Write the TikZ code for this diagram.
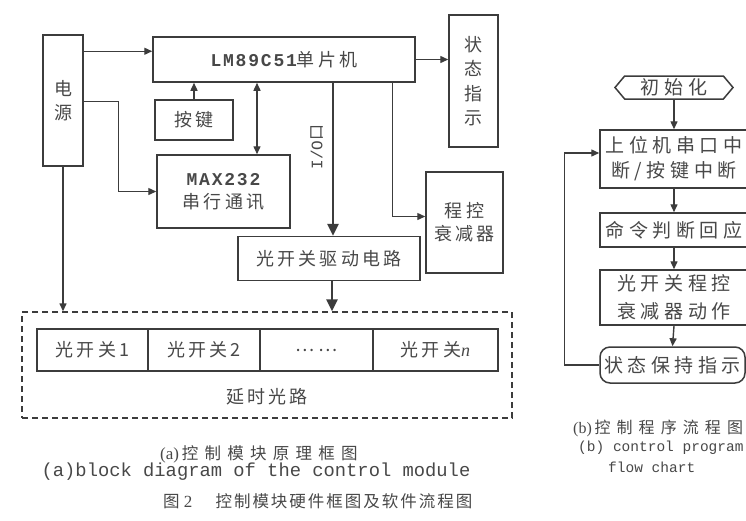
\documentclass[tikz,border=0pt]{standalone}
\usepackage{fontspec}
\setmainfont{Liberation Serif}
\newfontfamily\cjk{Noto Sans CJK SC}[LetterSpace=18]
\newfontfamily\cjkf{Noto Sans CJK SC}[LetterSpace=24]
\newfontfamily\cjkc{Noto Sans CJK SC}[LetterSpace=38]
\newfontfamily\cjkd{Noto Sans CJK SC}[LetterSpace=12]
\newfontfamily\mono{Liberation Mono}
\newfontfamily\monob{Liberation Mono}[LetterSpace=10]
\usetikzlibrary{arrows.meta,shapes.symbols}
\definecolor{ln}{HTML}{3C3C3C}
\definecolor{tx}{HTML}{484848}
\begin{document}
\begin{tikzpicture}[x=1pt,y=-1pt,
  box/.style={draw=ln,line width=1.5pt,rectangle,inner sep=0pt,align=center,text=tx,
    font=\cjk\fontsize{18}{23}\selectfont},
  fbox/.style={box,font=\cjkf\fontsize{19}{25}\selectfont},
  arr/.style={draw=ln,line width=1.4pt,-{Triangle[length=8pt,width=7pt]}},
  dbl/.style={draw=ln,line width=1.4pt,{Triangle[length=8pt,width=7pt]}-{Triangle[length=8pt,width=7pt]}},
  ioarr/.style={draw=ln,line width=2.6pt,-{Triangle[length=12pt,width=11pt]}},
  lbl/.style={inner sep=0pt,text=tx}]
\useasboundingbox (0,0) rectangle (746,520);
\fill[white] (0,0) rectangle (746,520);
\clip (0,0) rectangle (746,520);

% ---- (a) block diagram ----
\node[box,minimum width=40pt,minimum height=131pt,font=\cjk\fontsize{18}{24}\selectfont] (pw) at (63,100.5) {电\\源};
\node[box,minimum width=262pt,minimum height=45pt] (lm) at (284,59.5)
  {{\monob\bfseries\fontsize{18}{20}\selectfont LM89C51}单片机};
\node[box,minimum width=78pt,minimum height=40pt] (key) at (194,120) {按键};
\node[box,minimum width=133pt,minimum height=73pt] (max) at (223.5,191.5)
  {{\monob\bfseries\fontsize{18}{20}\selectfont MAX232}\\串行通讯};
\node[box,minimum width=49pt,minimum height=132pt,font=\cjk\fontsize{18}{24.5}\selectfont] (st) at (473.5,81) {状\\态\\指\\示};
\node[box,minimum width=77pt,minimum height=101pt] (att) at (464.5,222.5) {程控\\衰减器};
\node[box,minimum width=182pt,minimum height=44pt] (drv) at (329,258.5) {光开关驱动电路};
\node[draw=ln,line width=1.4pt,dash pattern=on 6pt off 4pt,minimum width=490pt,minimum height=106pt,inner sep=0pt] (dl) at (267,365) {};
\node[box,minimum width=111pt,minimum height=42pt] (c1) at (92.5,350) {光开关1};
\node[box,minimum width=112pt,minimum height=42pt] (c2) at (204,350) {光开关2};
\node[box,minimum width=113pt,minimum height=42pt] (c3) at (316.5,350) {……};
\node[box,minimum width=125pt,minimum height=42pt] (c4) at (435.5,350) {光开关{\rmfamily\itshape n}};
\node[lbl,font=\cjk\fontsize{18}{22}\selectfont] (dlt) at (267,397) {延时光路};
\node[lbl,rotate=90,font=\cjk\fontsize{16}{20}\selectfont] (io) at (317,147) {{\mono I/O}口};

\draw[arr] ([yshift=-17pt]pw.north east) -- ([yshift=-17pt]pw.north east -| lm.west);
\draw[arr] ([yshift=-67pt]pw.north east) -- ++(35,0) |- (max.west);
\draw[arr] (pw.south) -- (pw.south |- dl.north);
\draw[arr] (key.north) -- (key.north |- lm.south);
\draw[dbl] ([xshift=33.5pt]max.north) -- ([xshift=33.5pt]max.north |- lm.south);
\draw[arr] (lm.east) -- (lm.east -| st.west);
\draw[arr] ([xshift=-23pt]lm.south east) |- ([yshift=6pt]att.west);
\draw[ioarr] ([xshift=4pt]drv.north |- lm.south) -- ([xshift=4pt]drv.north);
\draw[ioarr] ([xshift=3pt]drv.south) -- ([xshift=3pt]drv.south |- dl.north);

% ---- (b) flow chart ----
\node[draw=ln,line width=1.5pt,signal,signal to=west and east,signal pointer angle=100,
  minimum width=118pt,minimum height=23pt,inner sep=0pt,text=tx,
  font=\cjkf\fontsize{19}{22}\selectfont] (init) at (674,87.5) {初始化};
\node[fbox,minimum width=148pt,minimum height=58pt] (b1) at (674,159) {上位机串口中\\断/按键中断};
\node[fbox,minimum width=148pt,minimum height=34pt] (b2) at (674,230) {命令判断回应};
\node[fbox,minimum width=148pt,minimum height=55pt,font=\cjkf\fontsize{19}{28}\selectfont] (b3) at (674,297.5) {光开关程控\\衰减器动作};
\node[fbox,rounded corners=10pt,minimum width=145pt,minimum height=36pt] (b4) at (672.5,365) {状态保持指示};

\draw[arr] (init.south) -- (b1.north);
\draw[arr] (b1.south) -- (b2.north);
\draw[arr] (b2.south) -- (b3.north);
\draw[arr] (b3.south) -- (b4.north);
\draw[arr] (b4.west) -- ++(-35,0) |- ([yshift=6pt]b1.west);

% ---- captions ----
\node[lbl,font=\cjkc\fontsize{16.5}{20}\selectfont] (capa) at (259,454)
  {{\rmfamily\fontsize{17}{20}\selectfont (a)}\,控制模块原理框图};
\node[lbl,font=\mono\fontsize{18.8}{22}\selectfont] (capae) at (256,472)
  {(a)block diagram of the control module};
\node[lbl,font=\cjkd\fontsize{16.5}{20}\selectfont,anchor=west] (fig) at (163,501)
  {图{\rmfamily\fontsize{17}{20}\selectfont~2}\hspace{1.4em}控制模块硬件框图及软件流程图};
\node[lbl,font=\cjkc\fontsize{16}{20}\selectfont,anchor=west] (capb) at (573,428)
  {{\rmfamily\fontsize{16}{20}\selectfont (b)}\,控制程序流程图};
\node[lbl,font=\mono\fontsize{14.5}{18}\selectfont,anchor=west] (capbe) at (578,448)
  {(b) control program};
\node[lbl,font=\mono\fontsize{14.5}{18}\selectfont,anchor=west] (capbf) at (608,467)
  {flow chart};
\end{tikzpicture}
\end{document}
